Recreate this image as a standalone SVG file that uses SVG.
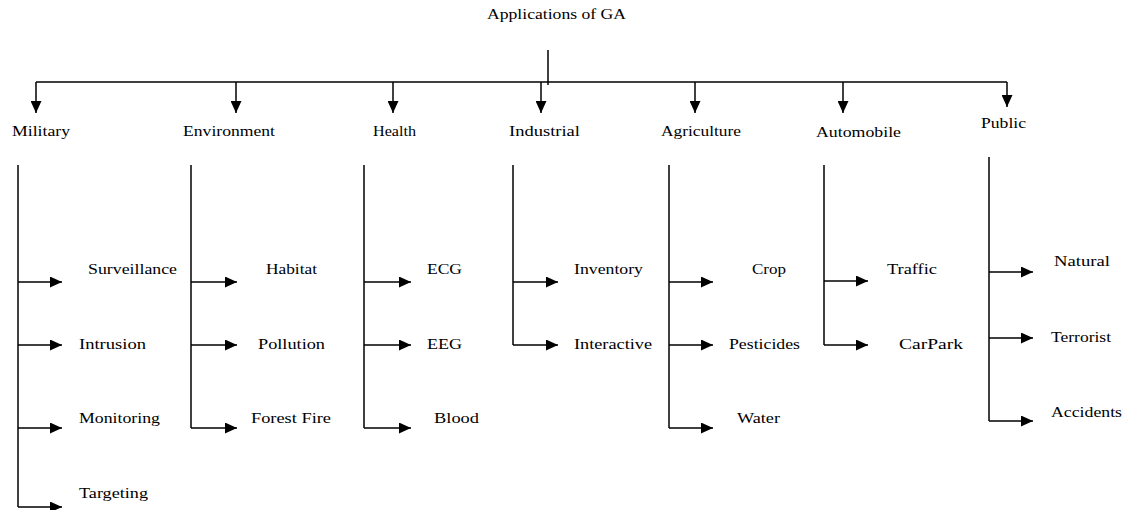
<svg xmlns="http://www.w3.org/2000/svg" width="1124" height="510" viewBox="0 0 1124 510">
<style>
text{font-family:"Liberation Serif","Times New Roman",serif;font-size:15px;fill:#000}
.c path,.c line{stroke:#000;stroke-width:1.5;fill:none}
</style>
<defs>
<marker id="a" markerUnits="userSpaceOnUse" markerWidth="12" markerHeight="11" refX="12" refY="5.5" orient="auto"><path d="M0,0 L12,5.5 L0,11 z" fill="#000"/></marker>
</defs>
<rect width="1124" height="510" fill="#fff"/>
<g class="c" id="connectors">
<line x1="548" y1="50" x2="548" y2="85"/>
<line x1="36" y1="82" x2="1007" y2="82"/>
<line x1="36" y1="82" x2="36" y2="113" marker-end="url(#a)"/>
<line x1="236" y1="82" x2="236" y2="113" marker-end="url(#a)"/>
<line x1="393" y1="82" x2="393" y2="113" marker-end="url(#a)"/>
<line x1="541" y1="82" x2="541" y2="113" marker-end="url(#a)"/>
<line x1="695" y1="82" x2="695" y2="113" marker-end="url(#a)"/>
<line x1="843" y1="82" x2="843" y2="113" marker-end="url(#a)"/>
<line x1="1007" y1="82" x2="1007" y2="107" marker-end="url(#a)"/>
<path d="M18,165 V507"/>
<line x1="18" y1="282" x2="62" y2="282" marker-end="url(#a)"/>
<line x1="18" y1="345" x2="62" y2="345" marker-end="url(#a)"/>
<line x1="18" y1="428" x2="62" y2="428" marker-end="url(#a)"/>
<line x1="18" y1="507" x2="62" y2="507" marker-end="url(#a)"/>
<path d="M191,165 V428"/>
<line x1="191" y1="282" x2="237" y2="282" marker-end="url(#a)"/>
<line x1="191" y1="345" x2="237" y2="345" marker-end="url(#a)"/>
<line x1="191" y1="428" x2="237" y2="428" marker-end="url(#a)"/>
<path d="M364,165 V428"/>
<line x1="364" y1="282" x2="411" y2="282" marker-end="url(#a)"/>
<line x1="364" y1="345" x2="411" y2="345" marker-end="url(#a)"/>
<line x1="364" y1="428" x2="411" y2="428" marker-end="url(#a)"/>
<path d="M513,165 V345"/>
<line x1="513" y1="282" x2="558" y2="282" marker-end="url(#a)"/>
<line x1="513" y1="345" x2="558" y2="345" marker-end="url(#a)"/>
<path d="M669,165 V428"/>
<line x1="669" y1="282" x2="713" y2="282" marker-end="url(#a)"/>
<line x1="669" y1="345" x2="713" y2="345" marker-end="url(#a)"/>
<line x1="669" y1="428" x2="713" y2="428" marker-end="url(#a)"/>
<path d="M824,165 V345"/>
<line x1="824" y1="281" x2="868" y2="281" marker-end="url(#a)"/>
<line x1="824" y1="345" x2="868" y2="345" marker-end="url(#a)"/>
<path d="M989,157 V421"/>
<line x1="989" y1="272" x2="1033" y2="272" marker-end="url(#a)"/>
<line x1="989" y1="338" x2="1033" y2="338" marker-end="url(#a)"/>
<line x1="989" y1="421" x2="1033" y2="421" marker-end="url(#a)"/>
</g>
<g id="root"><text x="487" y="19" textLength="139" lengthAdjust="spacingAndGlyphs">Applications of GA</text></g>
<g id="military"><text x="12" y="136" textLength="58" lengthAdjust="spacingAndGlyphs">Military</text></g>
<g id="environment"><text x="183" y="136" textLength="92" lengthAdjust="spacingAndGlyphs">Environment</text></g>
<g id="health"><text x="373" y="136" textLength="43" lengthAdjust="spacingAndGlyphs">Health</text></g>
<g id="industrial"><text x="509" y="136" textLength="71" lengthAdjust="spacingAndGlyphs">Industrial</text></g>
<g id="agriculture"><text x="661" y="136" textLength="80" lengthAdjust="spacingAndGlyphs">Agriculture</text></g>
<g id="automobile"><text x="816" y="137" textLength="85" lengthAdjust="spacingAndGlyphs">Automobile</text></g>
<g id="public"><text x="981" y="128" textLength="45" lengthAdjust="spacingAndGlyphs">Public</text></g>
<g id="surveillance"><text x="88" y="274" textLength="89" lengthAdjust="spacingAndGlyphs">Surveillance</text></g>
<g id="intrusion"><text x="79" y="349" textLength="67" lengthAdjust="spacingAndGlyphs">Intrusion</text></g>
<g id="monitoring"><text x="79" y="423" textLength="81" lengthAdjust="spacingAndGlyphs">Monitoring</text></g>
<g id="targeting"><text x="79" y="498" textLength="69" lengthAdjust="spacingAndGlyphs">Targeting</text></g>
<g id="habitat"><text x="266" y="274" textLength="51" lengthAdjust="spacingAndGlyphs">Habitat</text></g>
<g id="pollution"><text x="258" y="349" textLength="67" lengthAdjust="spacingAndGlyphs">Pollution</text></g>
<g id="forestfire"><text x="251" y="423" textLength="80" lengthAdjust="spacingAndGlyphs">Forest Fire</text></g>
<g id="ecg"><text x="427" y="274" textLength="35" lengthAdjust="spacingAndGlyphs">ECG</text></g>
<g id="eeg"><text x="427" y="349" textLength="35" lengthAdjust="spacingAndGlyphs">EEG</text></g>
<g id="blood"><text x="434" y="423" textLength="45" lengthAdjust="spacingAndGlyphs">Blood</text></g>
<g id="inventory"><text x="574" y="274" textLength="69" lengthAdjust="spacingAndGlyphs">Inventory</text></g>
<g id="interactive"><text x="574" y="349" textLength="78" lengthAdjust="spacingAndGlyphs">Interactive</text></g>
<g id="crop"><text x="752" y="274" textLength="34" lengthAdjust="spacingAndGlyphs">Crop</text></g>
<g id="pesticides"><text x="729" y="349" textLength="71" lengthAdjust="spacingAndGlyphs">Pesticides</text></g>
<g id="water"><text x="737" y="423" textLength="43" lengthAdjust="spacingAndGlyphs">Water</text></g>
<g id="traffic"><text x="887" y="274" textLength="50" lengthAdjust="spacingAndGlyphs">Traffic</text></g>
<g id="carpark"><text x="899" y="349" textLength="64" lengthAdjust="spacingAndGlyphs">CarPark</text></g>
<g id="natural"><text x="1054" y="266" textLength="56" lengthAdjust="spacingAndGlyphs">Natural</text></g>
<g id="terrorist"><text x="1051" y="342" textLength="60" lengthAdjust="spacingAndGlyphs">Terrorist</text></g>
<g id="accidents"><text x="1051" y="417" textLength="71" lengthAdjust="spacingAndGlyphs">Accidents</text></g>
</svg>
